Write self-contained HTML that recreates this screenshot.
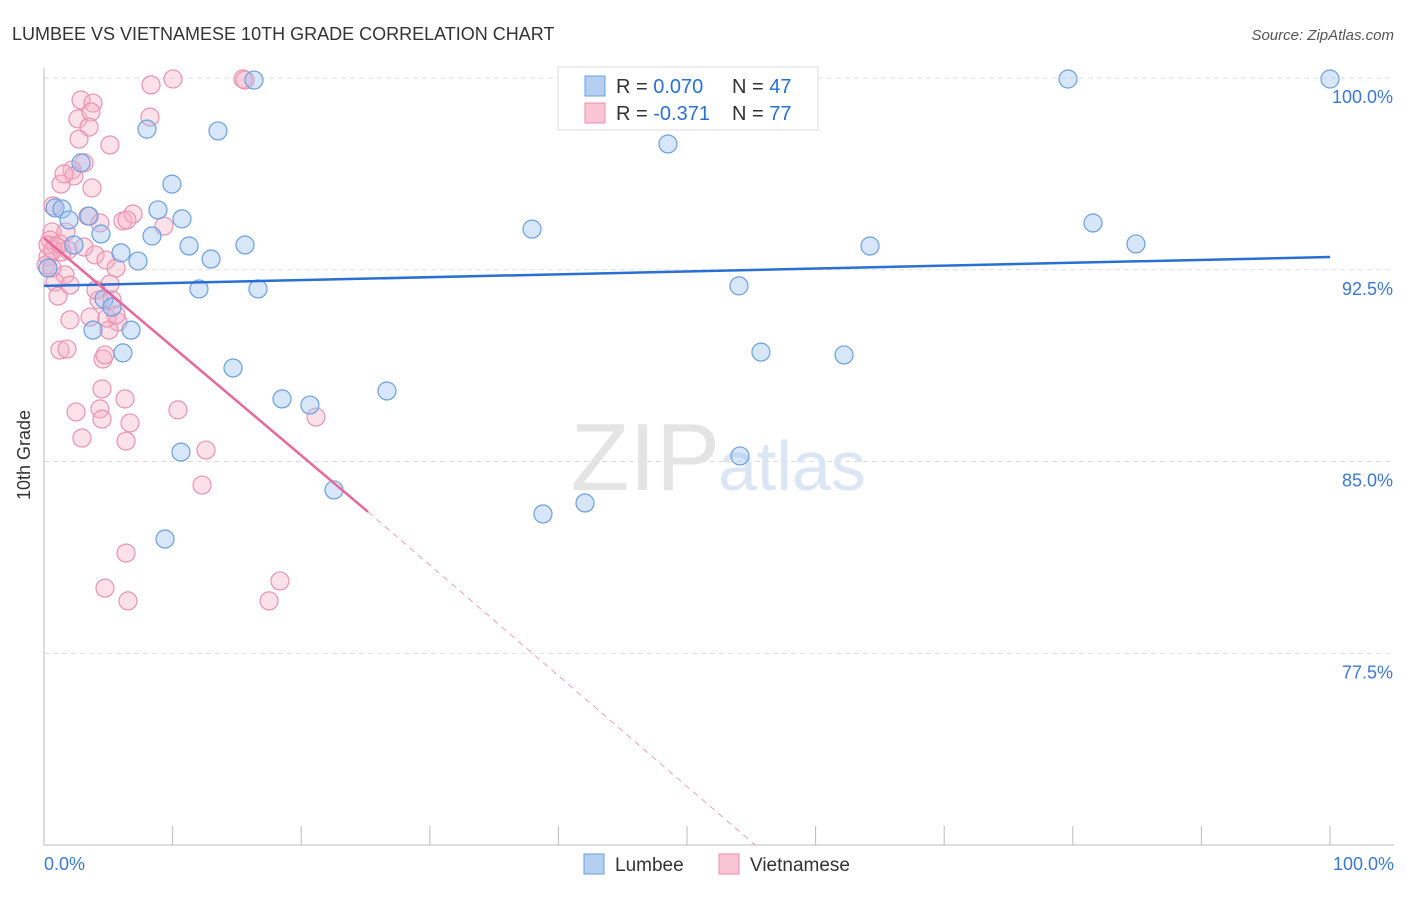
<!DOCTYPE html>
<html><head><meta charset="utf-8"><style>
body{margin:0;background:#fff;font-family:"Liberation Sans",sans-serif;}
svg text{font-family:"Liberation Sans",sans-serif;}
</style></head><body>
<svg width="1406" height="892" xmlns="http://www.w3.org/2000/svg">
<text x="12" y="40" font-size="18" fill="#333">LUMBEE VS VIETNAMESE 10TH GRADE CORRELATION CHART</text>
<text x="1394" y="40" font-size="15" fill="#555" text-anchor="end" font-style="italic">Source: ZipAtlas.com</text>
<g id="grid"></g>
<text x="720" y="490" font-size="96" fill="#e4e4e4" text-anchor="end" font-family="Liberation Serif">ZIP</text>
<text x="718" y="490" font-size="70" fill="#dbe6f5">atlas</text>
<g id="pts"></g>
<g id="lines"></g>
<text x="30" y="455" font-size="18" fill="#333" text-anchor="middle" transform="rotate(-90 30 455)">10th Grade</text>
<text x="44" y="870" font-size="18" fill="#3a78d4">0.0%</text>
<text x="1394" y="870" font-size="18" fill="#3a78d4" text-anchor="end">100.0%</text>
<g>
<rect x="558" y="67" width="260" height="63" fill="#fff" stroke="#ddd"/>
<rect x="585" y="76" width="20" height="20" fill="#b5cff2" stroke="#6a9fe0"/>
<rect x="585" y="103" width="20" height="20" fill="#f9c4d4" stroke="#ea8fae"/>
<text x="616" y="93" font-size="20" fill="#333">R = <tspan fill="#2a6fd6">0.070</tspan></text>
<text x="732" y="93" font-size="20" fill="#333">N = <tspan fill="#2a6fd6">47</tspan></text>
<text x="616" y="120" font-size="20" fill="#333">R = <tspan fill="#2a6fd6">-0.371</tspan></text>
<text x="732" y="120" font-size="20" fill="#333">N = <tspan fill="#2a6fd6">77</tspan></text>
</g>
<g>
<rect x="584" y="854" width="20" height="20" fill="#b5cff2" stroke="#6a9fe0"/>
<text x="615" y="871" font-size="19" fill="#333">Lumbee</text>
<rect x="719" y="854" width="20" height="20" fill="#f9c4d4" stroke="#ea8fae"/>
<text x="750" y="871" font-size="19" fill="#333">Vietnamese</text>
</g>
</svg>
<script>
const yTicks=[100,92.5,85,77.5];
const yTickLabels=["100.0%","92.5%","85.0%","77.5%"];
const xTicks=[0,10,20,30,40,50,60,70,80,90,100];
const lumbeeX=[0.86,1.4,2.88,3.5,1.94,4.43,2.33,5.99,7.31,8.01,8.86,9.95,8.4,10.73,11.28,12.99,13.53,15.63,12.05,16.64,4.67,5.29,3.81,6.77,6.14,14.7,18.51,20.68,26.67,10.65,22.55,9.41,16.33,37.95,48.52,54.04,55.75,62.21,64.23,54.12,38.8,42.07,79.63,81.57,84.91,100,0.31];
const lumbeeY=[94.92,94.88,96.68,94.6,94.45,93.9,93.47,93.16,92.84,98.0,94.84,95.85,93.82,94.49,93.43,92.92,97.93,93.47,91.75,91.75,91.36,91.04,90.14,90.14,89.25,88.66,87.45,87.21,87.76,85.37,83.89,81.97,99.92,94.09,97.42,91.87,89.28,89.17,93.43,85.22,82.95,83.38,99.96,94.33,93.51,99.96,92.57];
const vietX=[10.03,8.32,15.47,2.88,3.81,2.64,3.65,3.5,8.24,2.72,5.13,3.11,2.18,2.33,1.32,3.73,0.7,3.42,6.14,6.92,9.33,0.62,0.47,0.93,1.87,3.11,0.31,3.97,4.82,5.6,1.63,0.86,1.09,5.13,4.28,5.29,3.58,2.02,5.75,5.05,4.9,1.24,1.79,4.59,4.51,6.3,2.49,4.35,10.42,4.51,6.69,2.95,6.38,12.6,12.29,21.15,6.38,4.74,6.53,17.5,18.35,0.16,0.62,1.4,0.31,0.7,1.24,1.71,4.35,2.02,4.74,5.6,15.63,1.56,6.45,4.04];
const vietY=[99.96,99.73,99.96,99.14,99.02,98.4,98.67,98.08,98.47,97.61,97.38,96.68,96.4,96.17,95.85,95.7,95.0,94.6,94.41,94.68,94.21,93.98,93.66,93.43,93.27,93.39,93.0,93.08,92.88,92.57,92.3,92.02,91.47,91.94,91.32,91.32,90.65,90.54,90.46,90.14,90.61,89.36,89.4,89.01,87.84,87.45,86.94,87.06,87.02,86.66,86.51,85.92,85.8,85.45,84.08,86.74,81.42,80.05,79.55,79.55,80.33,92.69,92.57,93.2,93.47,93.27,93.51,93.98,94.33,91.9,89.17,90.73,99.92,96.25,94.45,91.71];
const lumbeeTrend=[91.87,93.0];
const vietTrend=[93.74,83.03,25.2,70,55.3];
const NS="http://www.w3.org/2000/svg";
const X=v=>44+v*12.86, Y=v=>78+(100-v)*25.57;
function mk(t,a,p){const e=document.createElementNS(NS,t);for(const k in a)e.setAttribute(k,a[k]);p.appendChild(e);return e;}
const grid=document.getElementById('grid');
yTicks.forEach((t,i)=>{
 const l=mk('line',{x1:44,x2:1394,y1:Y(t),y2:Y(t),stroke:'#ddd','stroke-dasharray':'5,4'},grid);
 
 
 const tx=mk('text',{x:1393,y:Y(t)+25,'font-size':18,fill:'#3a78d4','text-anchor':'end'},grid);
 tx.textContent=yTickLabels[i];
 
 
});
const ax=mk('line',{x1:44,x2:44,y1:68,y2:845,stroke:'#bbb'},grid);


const bx=mk('line',{x1:44,x2:1394,y1:845,y2:845,stroke:'#bbb'},grid);


xTicks.forEach(t=>{
 const l=mk('line',{x1:X(t),x2:X(t),y1:826,y2:845,stroke:'#bbb'},grid);
 
 
});
const pts=document.getElementById('pts');
vietX.forEach((v,i)=>{
 const c=mk('circle',{cx:X(v),cy:Y(vietY[i]),r:9,fill:'rgba(248,175,198,0.38)',stroke:'#eb92b1','stroke-width':1.2},pts);
 
 
});
lumbeeX.forEach((v,i)=>{
 const c=mk('circle',{cx:X(v),cy:Y(lumbeeY[i]),r:9,fill:'rgba(160,196,240,0.42)',stroke:'#6a9fe0','stroke-width':1.2},pts);
 
 
});
const ln=document.getElementById('lines');
const b=mk('line',{x1:X(0),y1:Y(lumbeeTrend[0]),x2:X(100),y2:Y(lumbeeTrend[1]),stroke:'#2a6fd6','stroke-width':2.5},ln);


const p=mk('line',{x1:X(0),y1:Y(vietTrend[0]),x2:X(vietTrend[2]),y2:Y(vietTrend[1]),stroke:'#e8679a','stroke-width':2.5},ln);


const d=mk('line',{x1:X(vietTrend[2]),y1:Y(vietTrend[1]),x2:X(vietTrend[4]),y2:Y(vietTrend[3]),stroke:'#eaa0bb','stroke-width':1,'stroke-dasharray':'6,5'},ln);


</script>
</body></html>
